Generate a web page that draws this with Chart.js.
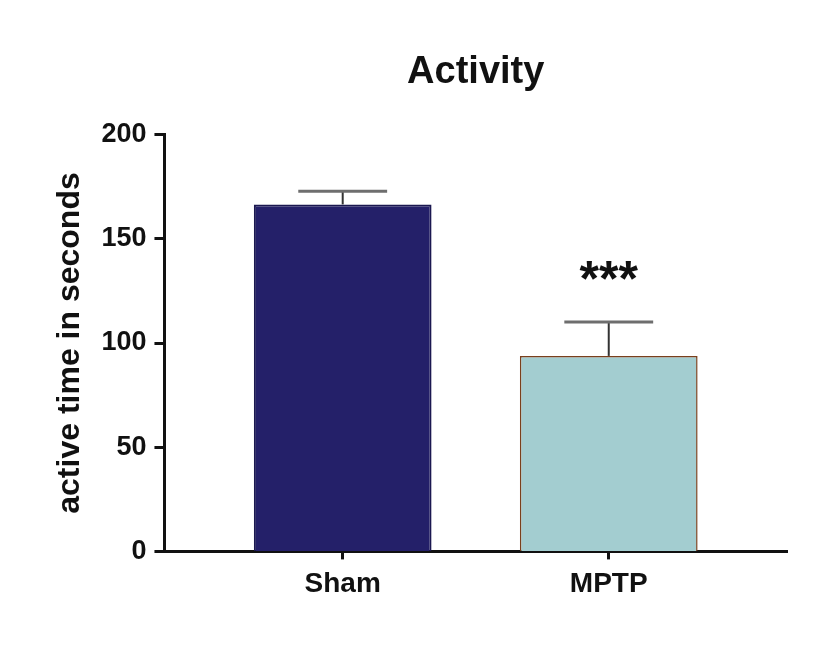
<!DOCTYPE html>
<html>
<head>
<meta charset="utf-8">
<script src="https://cdn.jsdelivr.net/npm/chart.js@4.4.0/dist/chart.umd.min.js"></script>
<style>
  html, body { margin: 0; padding: 0; background: #fff; }
  #wrap { width: 821px; height: 650px; }
</style>
</head>
<body>
<div id="wrap"><canvas id="activity" width="821" height="650"></canvas></div>
<script>
const categories = ['Sham', 'MPTP']
const means = [166.5, 93.8]
const sems = [6.3, 16.3]
const stars = ['', '***']
const yTicks = [0, 50, 100, 150, 200]

const barColors = ['#242069', '#a3cdd0']
const barBorders = ['#1b1850', '#7a3f1c']

// error bars + significance marks, placed through the chart scales
const errorBars = {
    id: 'errorBars',
    afterDatasetsDraw(chart) {
        const ctx = chart.ctx
        const yScale = chart.scales.y
        const meta = chart.getDatasetMeta(0)
        meta.data.forEach((bar, i) => {
            const x = bar.x
            const yMean = yScale.getPixelForValue(means[i])
            const yTop = yScale.getPixelForValue(means[i] + sems[i])
            const half = bar.width * 0.25
            ctx.save()
            ctx.strokeStyle = '#333'
            ctx.lineWidth = 2
            ctx.beginPath()
            ctx.moveTo(x, yMean)
            ctx.lineTo(x, yTop)
            ctx.stroke()
            ctx.strokeStyle = '#6e6e6e'
            ctx.lineWidth = 3
            ctx.beginPath()
            ctx.moveTo(x - half, yTop)
            ctx.lineTo(x + half, yTop)
            ctx.stroke()
            if (stars[i]) {
                ctx.fillStyle = '#111'
                ctx.font = 'bold 50px "Liberation Sans", Arial, sans-serif'
                ctx.textAlign = 'center'
                ctx.textBaseline = 'middle'
                ctx.fillText(stars[i], x, yScale.getPixelForValue(means[i] + sems[i] + 19))
            }
            ctx.restore()
        })
    }
}

const data = {
    datasets: [{
        label: 'Activity',
        data: categories.map((c, i) => ({ x: i + 1, y: means[i] })),
        backgroundColor: barColors,
        borderColor: barBorders,
        borderWidth: [2, 1.5],
        categoryPercentage: 1,
        barPercentage: 0.668
    }]
}

new Chart(document.querySelector('#activity'), {
    type: 'bar',
    data: data,
    plugins: [errorBars],
    options: {
        responsive: false,
        animation: false,
        layout: { padding: { top: 50, left: 47, right: 34, bottom: 41 } },
        plugins: {
            legend: { display: false },
            tooltip: { enabled: false },
            title: {
                display: true,
                text: 'Activity',
                fullSize: false,
                color: '#111',
                font: { family: '"Liberation Sans", Arial, sans-serif', size: 38, weight: 'bold' },
                padding: { top: 0, bottom: 39 }
            }
        },
        scales: {
            x: {
                type: 'linear',
                min: 0.33,
                max: 2.67,
                offset: false,
                grid: { offset: false, drawOnChartArea: false, tickLength: 8, tickWidth: 3, tickColor: '#111' },
                border: { color: '#111', width: 3 },
                ticks: {
                    stepSize: 1,
                    includeBounds: false,
                    padding: 8,
                    color: '#111',
                    font: { family: '"Liberation Sans", Arial, sans-serif', size: 28, weight: 'bold' },
                    callback: v => categories[v - 1] || ''
                },
                afterBuildTicks: scale => {
                    scale.ticks = categories.map((c, i) => ({ value: i + 1 }))
                }
            },
            y: {
                min: 0,
                max: 200,
                grid: { drawOnChartArea: false, tickLength: 10, tickWidth: 3, tickColor: '#111' },
                border: { color: '#111', width: 3 },
                afterBuildTicks: scale => {
                    scale.ticks = yTicks.map(v => ({ value: v }))
                },
                ticks: {
                    padding: 8,
                    color: '#111',
                    font: { family: '"Liberation Sans", Arial, sans-serif', size: 27, weight: 'bold' }
                },
                title: {
                    display: true,
                    text: 'active time in seconds',
                    color: '#111',
                    font: { family: '"Liberation Sans", Arial, sans-serif', size: 32, weight: 'bold' },
                    padding: { top: 4, bottom: 4 }
                }
            }
        }
    }
})
</script>
</body>
</html>
